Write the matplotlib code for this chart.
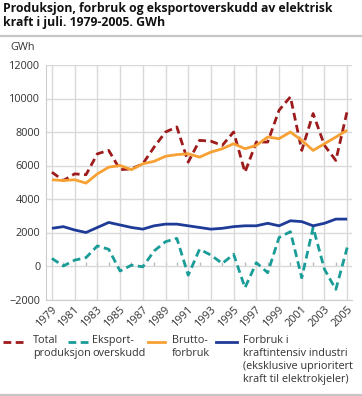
import matplotlib
matplotlib.use("Agg")
import matplotlib.pyplot as plt
from matplotlib.lines import Line2D
import numpy as np

plt.rcParams['font.family'] = ['Open Sans', 'DejaVu Sans']

years = list(range(1979, 2006))
total_produksjon = [5600, 5100, 5500, 5450, 6700, 6900, 5750, 5800, 6100, 7100,
                    8000, 8300, 6200, 7500, 7450, 7200, 8000, 5600, 7400, 7400,
                    9300, 10100, 6900, 9100, 7200, 6300, 9250]
eksportoverskudd = [450, 0, 350, 500, 1200, 1000, -300, 50, -50, 900,
                    1450, 1650, -550, 1000, 650, 150, 700, -1300, 200, -400,
                    1700, 2050, -700, 2300, -200, -1400, 1100]
bruttoforbruk = [5150, 5100, 5150, 4950, 5500, 5900, 6000, 5750, 6100, 6250,
                 6550, 6650, 6700, 6500, 6800, 7000, 7300, 7000, 7200, 7700,
                 7600, 8000, 7500, 6900, 7300, 7700, 8100]
forbruk_kraftint = [2250, 2350, 2150, 2000, 2300, 2600, 2450, 2300, 2200, 2400,
                    2500, 2500, 2400, 2300, 2200, 2250, 2350, 2400, 2400, 2550,
                    2400, 2700, 2650, 2400, 2550, 2800, 2800]

labels = ["Total\nproduksjon", "Eksport-\noverskudd", "Brutto-\nforbruk",
          "Forbruk i\nkraftintensiv industri\n(eksklusive uprioritert\nkraft til elektrokjeler)"]
colors = ["#9e1b1b", "#1a9c98", "#f7a034", "#1f3b98"]
styles = [(0, (2.8, 1.6)), (0, (2.8, 1.6)), "-", "-"]
series = [total_produksjon, eksportoverskudd, bruttoforbruk, forbruk_kraftint]

yticks = [-2000, 0, 2000, 4000, 6000, 8000, 10000, 12000]
xticks = list(range(1979, 2006, 2))

W, H = 362, 396
fig = plt.figure(figsize=(W / 100, H / 100), dpi=100)
ax = fig.add_axes([45.7 / W, 1 - 299.5 / H, (352.3 - 45.7) / W, (299.5 - 65) / H])

draw_order = [2, 3, 1, 0]
for i in draw_order:
    ax.plot(years, series[i], color=colors[i], lw=2.0, linestyle=styles[i],
            zorder=3 + i, solid_capstyle='butt', dash_capstyle='butt')

ax.set_xlim(1978.45, 2005.45)
ax.set_ylim(-2000, 12000)
ax.set_yticks(yticks)
ax.set_xticks(xticks)
ax.set_xticklabels([str(x) for x in xticks], rotation=45, ha='right', va='top',
                   rotation_mode='anchor')
ax.grid(True, color='#d9d9d9', lw=1.0)
ax.set_axisbelow(True)
for s in ['top', 'right']:
    ax.spines[s].set_visible(False)
ax.spines['left'].set_color('#cccccc')
ax.spines['bottom'].set_color('#cccccc')
ax.tick_params(axis='both', length=0, labelsize=7.8, colors='#333333')
ax.tick_params(axis='y', pad=4)
ax.tick_params(axis='x', pad=3)

# small ticks on zero line
sec = ax.secondary_xaxis(2000 / 14000)
sec.set_xticks(years)
sec.spines['bottom'].set_visible(False)
sec.spines['top'].set_visible(False)
sec.xaxis.set_ticks_position('bottom')
sec.tick_params(axis='x', direction='in', length=3, color='#bbbbbb', width=1,
                labelbottom=False, labeltop=False)
sec.set_xticklabels([])

# title and texts
fig.text(3 / W, 1 - 2 / H, "Produksjon, forbruk og eksportoverskudd av elektrisk\nkraft i juli. 1979-2005. GWh",
         fontsize=8.85, fontweight='bold', va='top', ha='left', color='#111111', linespacing=1.12)
fig.add_artist(Line2D([0, 1], [1 - 36 / H, 1 - 36 / H], transform=fig.transFigure,
                      color='#c6c6c6', lw=1.6))
fig.add_artist(Line2D([0, 1], [1 - 394.5 / H, 1 - 394.5 / H], transform=fig.transFigure,
                      color='#c6c6c6', lw=1.6))
fig.text(10 / W, 1 - 48 / H, "GWh", fontsize=7.8, va='center', ha='left', color='#333333')

# legend (manual)
hx = [(3, 25), (68, 90), (148, 165), (216, 237)]
tx = [33, 92, 172, 243]
ly = 342
for i in range(4):
    fig.add_artist(Line2D([hx[i][0] / W, hx[i][1] / W], [1 - ly / H, 1 - ly / H],
                          transform=fig.transFigure, color=colors[i], lw=2.0,
                          linestyle=styles[i], dash_capstyle='butt'))
    fig.text(tx[i] / W, 1 - 335 / H, labels[i], fontsize=7.8, va='top', ha='left',
             color='#333333', linespacing=1.25)

fig.savefig("out.png", dpi=100)
